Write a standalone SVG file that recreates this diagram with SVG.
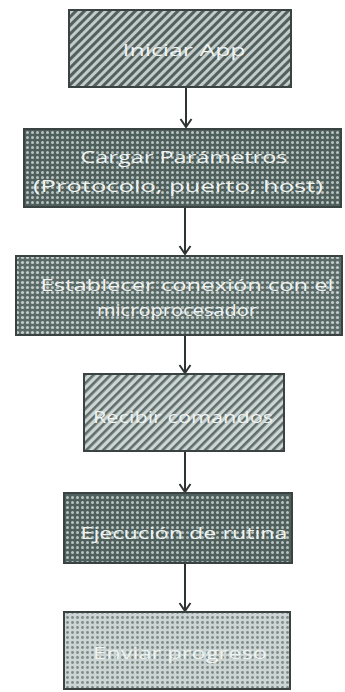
<svg xmlns="http://www.w3.org/2000/svg" width="345" height="692" viewBox="0 0 345 692">
<style>
.box{stroke:#3a4341;stroke-width:2}
.t{font-family:"Open Sans","Liberation Sans",sans-serif;font-size:16px;fill:#eef2f0;text-anchor:middle}
.c{stroke:#2e3432;stroke-width:2;fill:none}
</style>
<defs>
<pattern id="diag" width="6" height="6" patternUnits="userSpaceOnUse" patternTransform="rotate(45)">
<rect width="6" height="6" fill="#c3ccca"/>
<rect width="3" height="6" fill="#52615e"/>
</pattern>
<pattern id="diagL" width="6" height="6" patternUnits="userSpaceOnUse" patternTransform="rotate(45)">
<rect width="6" height="6" fill="#ced6d4"/>
<rect width="2.6" height="6" fill="#5e6d6a"/>
</pattern>
<pattern id="chk" width="5" height="5" patternUnits="userSpaceOnUse">
<rect width="5" height="5" fill="#4e5f5c"/>
<circle cx="2.5" cy="2.5" r="1.5" fill="#b9c4c1"/>
</pattern>
<pattern id="chk2" width="5" height="5" patternUnits="userSpaceOnUse">
<rect width="5" height="5" fill="#5a6a67"/>
<circle cx="2.5" cy="2.5" r="1.6" fill="#c2ccca"/>
</pattern>
<pattern id="dots" width="5" height="5" patternUnits="userSpaceOnUse">
<rect width="5" height="5" fill="#cdd6d4"/>
<circle cx="2.5" cy="2.5" r="1.4" fill="#7d8b88"/>
</pattern>
<marker id="arr" markerWidth="14" markerHeight="14" refX="11" refY="7" orient="auto" markerUnits="userSpaceOnUse" viewBox="0 0 14 14">
<path d="M3,1.5 L11,7 L3,12.5" fill="none" stroke="#2e3432" stroke-width="2"/>
</marker>
</defs>
<g id="connectors">
<line class="c" x1="186" y1="88" x2="186" y2="127" marker-end="url(#arr)"/>
<line class="c" x1="185" y1="208" x2="185" y2="254" marker-end="url(#arr)"/>
<line class="c" x1="185" y1="336" x2="185" y2="373" marker-end="url(#arr)"/>
<line class="c" x1="185" y1="452" x2="185" y2="492" marker-end="url(#arr)"/>
<line class="c" x1="185" y1="564" x2="185" y2="611" marker-end="url(#arr)"/>
</g>
<g id="n1">
<rect class="box" x="69" y="10" width="222" height="77" fill="url(#diag)"/>
<text class="t" x="184" y="56" textLength="123" lengthAdjust="spacingAndGlyphs">Iniciar App</text>
</g>
<g id="n2">
<rect class="box" x="24" y="129" width="317" height="78" fill="url(#chk)"/>
<text class="t" x="184" y="163" textLength="207" lengthAdjust="spacingAndGlyphs">Cargar Parámetros</text>
<text class="t" x="178" y="192" textLength="290" lengthAdjust="spacingAndGlyphs">(Protocolo, puerto, host)</text>
</g>
<g id="n3">
<rect class="box" x="16" y="256" width="326" height="79" fill="url(#chk2)"/>
<text class="t" x="187" y="291" textLength="293" lengthAdjust="spacingAndGlyphs">Establecer conexión con el</text>
<text class="t" x="177" y="316" textLength="160" lengthAdjust="spacingAndGlyphs">microprocesador</text>
</g>
<g id="n4">
<rect class="box" x="84" y="374" width="200" height="77" fill="url(#diagL)"/>
<text class="t" x="183" y="423" textLength="180" lengthAdjust="spacingAndGlyphs">Recibir comandos</text>
</g>
<g id="n5">
<rect class="box" x="64" y="493" width="228" height="70" fill="url(#chk)"/>
<text class="t" x="184" y="539" textLength="207" lengthAdjust="spacingAndGlyphs">Ejecución de rutina</text>
</g>
<g id="n6">
<rect class="box" x="64" y="612" width="226" height="77" fill="url(#dots)"/>
<text class="t" x="180" y="659" textLength="174" lengthAdjust="spacingAndGlyphs">Enviar progreso</text>
</g>
</svg>
